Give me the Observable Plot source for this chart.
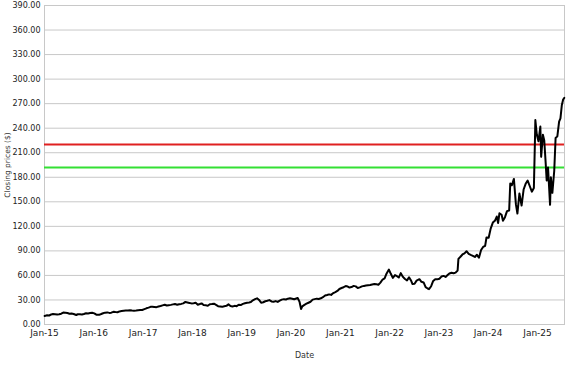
<!DOCTYPE html>
<html>
<head>
<meta charset="utf-8">
<script src="https://cdn.jsdelivr.net/npm/d3@7"></script>
<script src="https://cdn.jsdelivr.net/npm/@observablehq/plot@0.6"></script>
<style>
  html, body { margin: 0; padding: 0; background: #fff; }
  #chart svg { display: block; }
</style>
</head>
<body>
<div id="chart"></div>
<script>
const dates = [
"2015-01-02","2015-01-20","2015-02-05","2015-02-20","2015-03-05","2015-03-20","2015-04-05","2015-04-20","2015-05-05","2015-05-20","2015-06-05","2015-06-20","2015-07-05","2015-07-20","2015-08-05","2015-08-24","2015-09-05","2015-09-20","2015-10-05","2015-10-20","2015-11-05","2015-11-20","2015-12-05","2015-12-20",
"2016-01-05","2016-01-20","2016-02-10","2016-02-25","2016-03-10","2016-03-25","2016-04-10","2016-04-25","2016-05-10","2016-05-25","2016-06-10","2016-06-25","2016-07-10","2016-07-25","2016-08-10","2016-08-25","2016-09-10","2016-09-25","2016-10-10","2016-10-25","2016-11-10","2016-11-25","2016-12-10","2016-12-25",
"2017-01-10","2017-01-25","2017-02-10","2017-02-25","2017-03-10","2017-03-25","2017-04-10","2017-04-25","2017-05-10","2017-05-25","2017-06-10","2017-06-25","2017-07-10","2017-07-25","2017-08-10","2017-08-25","2017-09-10","2017-09-25","2017-10-10","2017-10-25","2017-11-10","2017-11-25","2017-12-10","2017-12-25",
"2018-01-10","2018-01-25","2018-02-10","2018-02-25","2018-03-10","2018-03-25","2018-04-10","2018-04-25","2018-05-10","2018-05-25","2018-06-10","2018-06-25","2018-07-10","2018-07-25","2018-08-10","2018-08-25","2018-09-10","2018-09-25","2018-10-10","2018-10-25","2018-11-10","2018-11-25","2018-12-10","2018-12-25",
"2019-01-10","2019-01-25","2019-02-10","2019-02-25","2019-03-10","2019-03-25","2019-04-10","2019-04-25","2019-05-10","2019-05-25","2019-06-10","2019-06-25","2019-07-10","2019-07-25","2019-08-10","2019-08-25","2019-09-10","2019-09-25","2019-10-10","2019-10-25","2019-11-10","2019-11-25","2019-12-10","2019-12-25",
"2020-01-10","2020-01-25","2020-02-10","2020-02-20","2020-03-05","2020-03-16","2020-03-25","2020-04-10","2020-04-25","2020-05-10","2020-05-25","2020-06-10","2020-06-25","2020-07-10","2020-07-25","2020-08-10","2020-08-25","2020-09-10","2020-09-25","2020-10-10","2020-10-25","2020-11-10","2020-11-25","2020-12-10","2020-12-25",
"2021-01-10","2021-01-25","2021-02-10","2021-02-25","2021-03-10","2021-03-25","2021-04-10","2021-04-25","2021-05-10","2021-05-25","2021-06-10","2021-06-25","2021-07-10","2021-07-25","2021-08-10","2021-08-25","2021-09-10","2021-09-25","2021-10-10","2021-10-25","2021-11-10","2021-11-25","2021-12-10","2021-12-27",
"2022-01-10","2022-01-25","2022-02-10","2022-02-25","2022-03-10","2022-03-25","2022-04-10","2022-04-25","2022-05-10","2022-05-25","2022-06-10","2022-06-20","2022-07-05","2022-07-20","2022-08-10","2022-08-25","2022-09-10","2022-09-25","2022-10-10","2022-10-20","2022-11-05","2022-11-20","2022-12-05","2022-12-20",
"2023-01-05","2023-01-20","2023-02-05","2023-02-20","2023-03-05","2023-03-20","2023-04-05","2023-04-20","2023-05-05","2023-05-20","2023-05-26","2023-06-10","2023-06-25","2023-07-10","2023-07-25","2023-08-10","2023-08-25","2023-09-10","2023-09-25","2023-10-10","2023-10-25","2023-11-10","2023-11-25","2023-12-10","2023-12-20",
"2024-01-05","2024-01-20","2024-02-05","2024-02-20","2024-03-05","2024-03-15","2024-03-25","2024-04-10","2024-04-20","2024-05-05","2024-05-20","2024-06-05","2024-06-13","2024-06-25","2024-07-10","2024-07-25","2024-08-05","2024-08-20","2024-09-05","2024-09-20","2024-10-05","2024-10-20","2024-11-05","2024-11-20","2024-12-05","2024-12-13","2024-12-16","2024-12-27",
"2025-01-08","2025-01-22","2025-01-28","2025-02-10","2025-02-20","2025-03-03","2025-03-10","2025-03-20","2025-04-04","2025-04-10","2025-04-21","2025-05-05","2025-05-15","2025-05-28","2025-06-10","2025-06-20","2025-06-30","2025-07-10","2025-07-18"
];
const closes = [
10.5,11.2,11.0,12.3,12.8,12.6,12.2,12.6,13.2,14.6,14.3,14.0,13.2,13.5,12.8,11.6,12.5,12.4,12.2,12.8,13.8,13.5,14.0,14.4,
13.6,12.0,11.8,12.8,13.8,14.5,14.8,14.2,14.5,15.5,15.2,15.0,16.0,16.4,16.8,17.0,17.2,17.4,17.0,16.8,17.0,17.3,17.6,17.8,
18.8,19.8,20.6,21.6,21.8,21.5,21.2,22.0,22.6,23.4,24.2,23.2,23.6,24.0,24.6,25.0,24.2,24.8,25.2,25.8,27.6,27.0,26.4,25.8,
26.0,26.6,24.2,25.0,25.8,23.8,23.4,23.0,24.8,25.0,25.4,24.0,22.4,22.0,21.6,22.4,22.8,24.6,22.6,22.0,22.8,22.4,24.2,23.8,
25.2,26.0,26.6,27.0,27.4,29.6,31.0,32.0,30.0,26.6,27.2,28.4,29.0,29.8,28.2,27.8,28.6,27.6,29.2,30.4,31.0,30.6,31.6,32.0,
31.4,30.8,31.8,32.4,27.6,19.0,22.2,24.0,25.4,26.6,27.8,30.4,31.0,31.6,31.2,32.0,33.4,35.4,36.0,36.8,36.2,38.4,39.6,41.0,43.4,
44.6,45.6,47.0,46.4,45.2,45.8,47.2,46.6,44.6,45.4,46.6,47.2,47.6,48.0,48.4,49.0,49.6,49.2,48.6,51.2,55.0,56.4,62.4,67.2,
62.0,57.0,60.4,59.0,57.4,62.8,58.2,55.6,54.0,57.6,53.4,49.4,49.8,53.6,55.4,52.2,51.4,45.6,44.0,43.2,46.8,53.2,55.4,55.2,
56.0,58.6,59.4,58.2,60.2,62.4,63.2,62.6,63.4,66.0,80.2,82.8,85.6,87.0,89.6,86.4,85.2,84.0,82.6,85.2,81.6,91.0,94.8,96.2,106.4,
106.0,117.2,124.6,126.8,132.0,124.0,136.0,134.2,126.8,131.2,138.6,139.4,172.4,170.2,178.0,146.8,135.6,160.2,145.4,165.0,172.0,176.0,169.0,162.4,167.0,224.8,250.0,232.0,
224.0,242.0,205.0,232.0,225.0,196.0,176.0,192.0,146.3,180.0,161.0,188.0,228.0,230.0,248.0,252.0,268.0,275.0,277.0
];
const yTicks = d3.range(0, 391, 30);
const xTickDates = d3.range(2015, 2026).map(y => new Date(Date.UTC(y, 0, 1)));
const levelValues = [220, 192];
const levelColors = ["#e02020", "#33e033"];
const xDomain = [new Date("2015-01-01"), new Date("2025-07-20")];
const yTitle = ["Closing prices ($)"];
const xTitle = ["Date"];

const series = dates.map((d, i) => ({date: new Date(d), close: closes[i]}));
const levels = levelValues.map((v, i) => ({v, c: levelColors[i]}));

const chart = Plot.plot({
  width: 577,
  height: 367,
  marginLeft: 44,
  marginRight: 13,
  marginTop: 5,
  marginBottom: 43,
  style: {fontFamily: "DejaVu Sans, Verdana, sans-serif", background: "#fff"},
  x: {type: "utc", domain: xDomain},
  y: {domain: [0, 390]},
  marks: [
    Plot.gridY(yTicks, {stroke: "#c8c8c8", strokeOpacity: 1, strokeWidth: 1}),
    Plot.frame({stroke: "#c8c8c8"}),
    Plot.ruleY(levels, {y: "v", stroke: "c", strokeWidth: 2}),
    Plot.line(series, {x: "date", y: "close", stroke: "#000", strokeWidth: 2, strokeLinejoin: "round"}),
    Plot.axisY(yTicks, {tickSize: 0, tickPadding: 4, tickFormat: d3.format(".2f"), fontSize: 8, fill: "#222", label: null}),
    Plot.axisX(xTickDates, {tickSize: 0, tickPadding: 5.5, tickFormat: d3.utcFormat("%b-%y"), fontSize: 9, fill: "#222", label: null}),
    Plot.text(yTitle, {text: d => d, frameAnchor: "left", textAnchor: "middle", rotate: -90, dx: -37, fontSize: 7.5, fill: "#333"}),
    Plot.text(xTitle, {text: d => d, frameAnchor: "bottom", dy: 33, fontSize: 8, fill: "#333"})
  ]
});
document.getElementById("chart").appendChild(chart);
</script>
</body>
</html>
